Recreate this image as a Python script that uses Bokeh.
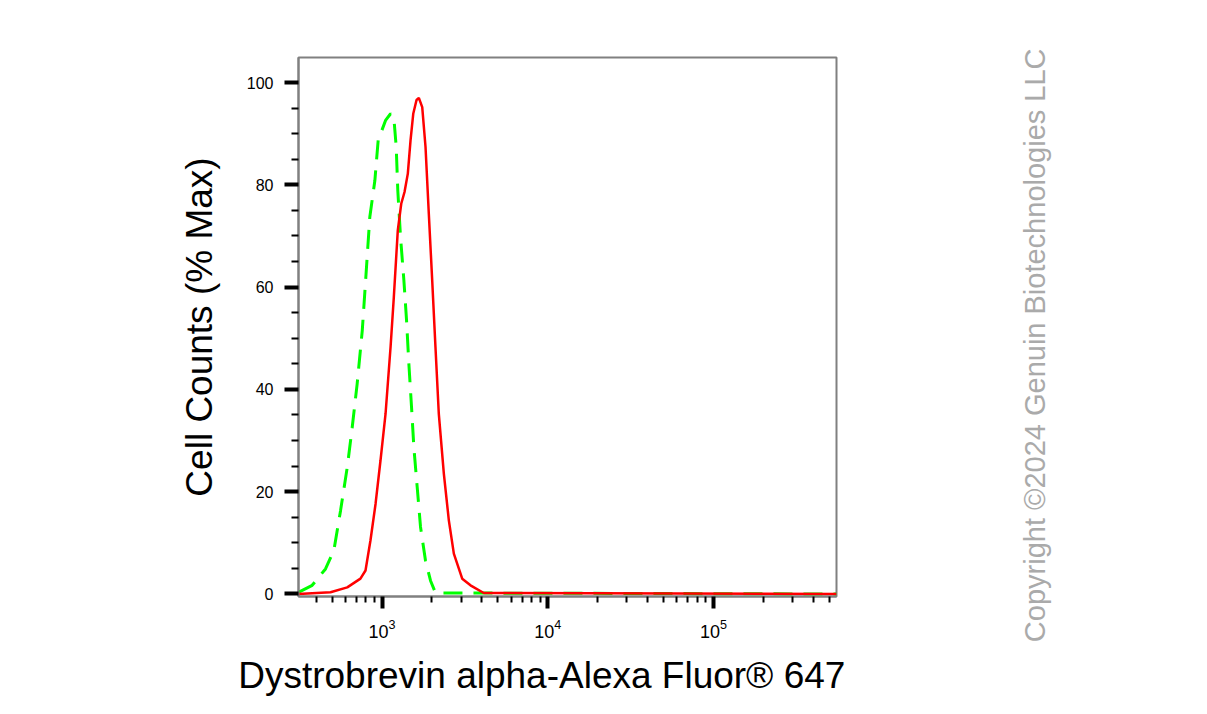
from bokeh.plotting import figure
from bokeh.layouts import row, column
from bokeh.models import FixedTicker
from bokeh.core.properties import value
from bokeh.embed import file_html
from bokeh.resources import INLINE

# ---- data ----
red_x = [313, 489, 617, 741, 795, 852, 914, 979, 1050, 1126, 1178, 1245, 1306, 1367,
         1431, 1486, 1543, 1615, 1668, 1748, 1830, 1916, 2008, 2101, 2201, 2361, 2530,
         2712, 3046, 3418, 4111, 552000]
red_y = [0, 0.35, 1.3, 3.0, 4.6, 10.5, 17.6, 26.1, 35.2, 48.3, 58.0, 71.1, 76.3, 78.6,
         82.2, 88.7, 93.9, 96.6, 97.0, 95.2, 87.4, 74.3, 61.3, 48.3, 35.2, 23.5, 14.4,
         7.9, 3.0, 1.7, 0.2, 0]

green_x = [315, 379, 456, 512, 562, 617, 661, 708, 760, 806, 844, 905, 948, 1050, 1126,
           1178, 1218, 1245, 1293, 1355, 1406, 1452, 1507, 1556, 1630, 1707, 1830, 1962,
           2103, 552000]
green_y = [0.35, 1.7, 4.9, 8.5, 16.3, 24.8, 32.6, 41.1, 51.5, 63.9, 73.7, 80.8, 88.7,
           92.6, 93.9, 93.2, 87.4, 78.9, 69.8, 61.3, 53.5, 45.0, 36.5, 28.7, 20.9, 13.1,
           6.5, 2.6, 0.2, 0]

x_major_ticks = [1000, 10000, 100000]
x_minor_ticks = [m * 10 ** e for e in (2, 3, 4, 5) for m in range(2, 10)]
y_major_ticks = [0, 20, 40, 60, 80, 100]
y_minor_ticks = [v for v in range(0, 105, 5) if v % 20 != 0]

x_title = "Dystrobrevin alpha-Alexa Fluor\u00ae 647"
y_title = "Cell Counts (% Max)"
watermark = "Copyright \u00a92024 Genuin Biotechnologies LLC"

FONT = "Liberation Sans"

p = figure(x_axis_type="log", x_range=(313.4, 552000), y_range=(-0.49, 104.9),
           frame_width=538, frame_height=539,
           min_border_left=298, min_border_right=166, min_border_top=57, min_border_bottom=102,
           output_backend="svg", toolbar_location=None, background_fill_color="white",
           border_fill_color="white")
p.grid.visible = False
p.outline_line_color = "#808080"
p.outline_line_width = 2

p.line(green_x, green_y, line_color="#00ff00", line_width=3, line_dash="19 11")
p.line(red_x, red_y, line_color="#ff0000", line_width=2.5)

xa = p.xaxis[0]
xa.ticker = FixedTicker(ticks=x_major_ticks, minor_ticks=x_minor_ticks)
ya = p.yaxis[0]
ya.ticker = FixedTicker(ticks=y_major_ticks, minor_ticks=y_minor_ticks)

for ax in (xa, ya):
    ax.axis_line_color = "#808080"
    ax.axis_line_width = 2
    ax.major_tick_line_color = "black"
    ax.major_tick_line_width = 4
    ax.major_tick_in = 0
    ax.minor_tick_line_color = "black"
    ax.minor_tick_line_width = 2
    ax.minor_tick_in = 0
    ax.major_label_text_font = FONT
    ax.major_label_text_color = "black"
    ax.axis_label_text_font = FONT
    ax.axis_label_text_font_style = "normal"
    ax.axis_label_text_color = "black"
    ax.axis_label_text_font_size = "37px"

xa.major_tick_out = 12
xa.minor_tick_out = 6
xa.major_label_text_font_size = "18px"
xa.major_label_text_align = "left"
xa.major_label_standoff = 10
xa.axis_label = x_title + "\u00a0" * 5
xa.axis_label_standoff = 14

ya.major_tick_out = 14
ya.minor_tick_out = 7
ya.major_label_text_font_size = "16px"
ya.major_label_standoff = 11
ya.axis_label = y_title
ya.axis_label_standoff = 24

# watermark panel to the right of the chart
w = figure(width=70, height=698, x_range=(0, 1), y_range=(0, 1), min_border=0,
           output_backend="svg", toolbar_location=None, x_axis_location=None,
           y_axis_location=None, background_fill_color="white", border_fill_color="white")
w.grid.visible = False
w.outline_line_color = None
w.text(x=[0.46], y=[0.506], text=[watermark], angle=90, angle_units="deg",
       text_align="center", text_baseline="middle", text_font=value(FONT),
       text_font_size="29px", text_color="#aaaaaa")

layout = row(p, column(w), spacing=0)
open("out.html", "w").write(file_html(layout, INLINE))
